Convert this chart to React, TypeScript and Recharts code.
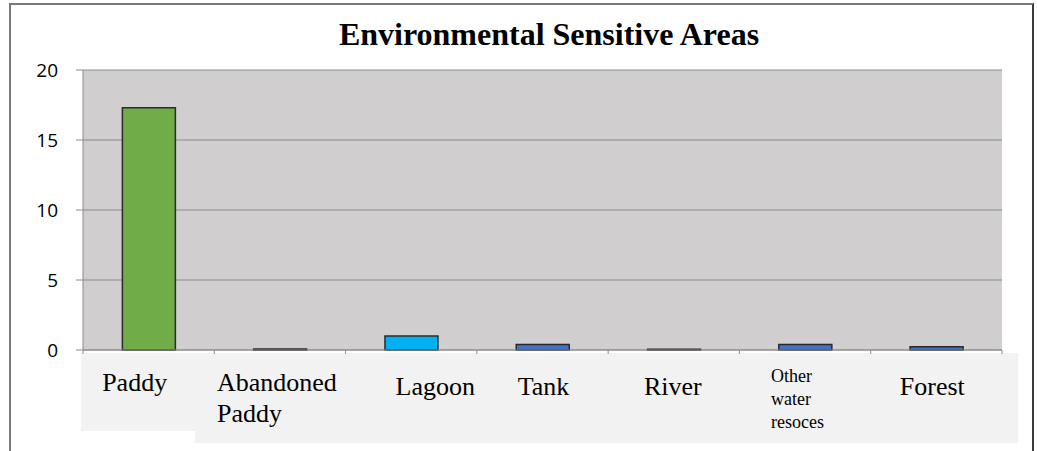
import { BarChart, Bar, XAxis, YAxis, CartesianGrid, Cell } from 'recharts'

const categories = [
  'Paddy',
  'Abandoned Paddy',
  'Lagoon',
  'Tank',
  'River',
  'Other water resoces',
  'Forest',
]
const areaValues = [17.3, 0.08, 1.0, 0.4, 0.05, 0.4, 0.24]
const barColors = ['#70AD47', '#4472C4', '#00B0F0', '#4472C4', '#4472C4', '#4472C4', '#4472C4']
const yTicks = [0, 5, 10, 15, 20]

const data = categories.map((name, i) => ({ name, value: areaValues[i] }))

const WIDTH = 1037
const HEIGHT = 451
const PLOT_LEFT = 83
const PLOT_RIGHT = 1002
const PLOT_TOP = 70
const PLOT_BOTTOM = 350
const BAND = (PLOT_RIGHT - PLOT_LEFT) / categories.length

const serif = '"Liberation Serif", "Times New Roman", serif'
const sans = '"Open Sans", "Liberation Sans", sans-serif'

// category labels sit in text boxes, not quite centred on their bars
type LabelBox = { lines: string[]; size: number; anchor: 'start' | 'middle'; dx: number; baselines: number[] }
const labelBoxes: Record<string, LabelBox> = {
  Paddy: { lines: ['Paddy'], size: 26, anchor: 'middle', dx: -14, baselines: [391] },
  'Abandoned Paddy': { lines: ['Abandoned', 'Paddy'], size: 26, anchor: 'start', dx: -63, baselines: [391, 422] },
  Lagoon: { lines: ['Lagoon'], size: 26, anchor: 'middle', dx: 24, baselines: [395] },
  Tank: { lines: ['Tank'], size: 26, anchor: 'middle', dx: 1, baselines: [395] },
  River: { lines: ['River'], size: 26, anchor: 'middle', dx: -1, baselines: [395] },
  'Other water resoces': {
    lines: ['Other', 'water', 'resoces'],
    size: 18,
    anchor: 'start',
    dx: -34,
    baselines: [382, 405, 428],
  },
  Forest: { lines: ['Forest'], size: 26, anchor: 'middle', dx: -4, baselines: [395] },
}

function CategoryTick(props: any) {
  const { x, index, payload } = props
  const box = labelBoxes[payload.value]
  const half = BAND / 2
  return (
    <g>
      {index === 0 && (
        <>
          <rect x={81} y={353} width={114} height={78} fill="#F2F2F2" />
          <rect x={195} y={353} width={823} height={90} fill="#F2F2F2" />
        </>
      )}
      <line x1={x - half} x2={x - half} y1={PLOT_BOTTOM} y2={PLOT_BOTTOM + 4} stroke="#8c8c8c" />
      {index === categories.length - 1 && (
        <line x1={x + half} x2={x + half} y1={PLOT_BOTTOM} y2={PLOT_BOTTOM + 4} stroke="#8c8c8c" />
      )}
      <text style={{ fontFamily: serif, fontSize: box.size }} fill="#000" textAnchor={box.anchor}>
        {box.lines.map((line, k) => (
          <tspan key={line} x={x + box.dx} y={box.baselines[k]}>
            {line}
          </tspan>
        ))}
      </text>
    </g>
  )
}

function ValueTick(props: any) {
  const { y, payload } = props
  return (
    <text
      x={58}
      y={y}
      dy={7}
      textAnchor="end"
      fill="#000"
      style={{ fontFamily: sans, fontSize: 19 }}
    >
      {payload.value}
    </text>
  )
}

export default function App() {
  return (
    <div style={{ position: 'absolute', left: 0, top: 0, width: WIDTH, height: HEIGHT, background: '#fff', overflow: 'hidden' }}>
      <div
        style={{
          position: 'absolute',
          left: 9,
          top: 3,
          width: WIDTH - 9 - 3,
          height: HEIGHT + 10,
          borderTop: '2px solid #7a7a7a',
          borderLeft: '2px solid #7a7a7a',
          borderRight: '2px solid #3a3a3a',
          boxSizing: 'border-box',
        }}
      />
      <div
        style={{
          position: 'absolute',
          left: 0,
          top: 18,
          width: 1098,
          textAlign: 'center',
          fontFamily: serif,
          fontWeight: 'bold',
          fontSize: 32,
          lineHeight: '32px',
          color: '#000',
        }}
      >
        Environmental Sensitive Areas
      </div>
      <div style={{ position: 'absolute', left: 0, top: 0 }}>
        <BarChart
          width={WIDTH}
          height={HEIGHT}
          data={data}
          margin={{ top: PLOT_TOP, right: WIDTH - PLOT_RIGHT, left: 10, bottom: 41 }}
          barCategoryGap="30%"
        >
          <CartesianGrid vertical={false} fill="#D0CECE" stroke="#8c8c8c" fillOpacity={1} />
          <XAxis
            dataKey="name"
            height={60}
            interval={0}
            axisLine={{ stroke: '#8c8c8c' }}
            tickLine={false}
            tick={<CategoryTick />}
          />
          <YAxis
            width={73}
            domain={[0, 20]}
            ticks={yTicks}
            interval={0}
            axisLine={{ stroke: '#8c8c8c' }}
            tickLine={{ stroke: '#8c8c8c' }}
            tickSize={7}
            tick={<ValueTick />}
          />
          <Bar dataKey="value" stroke="#2b2b2b" strokeWidth={1.5} isAnimationActive={false}>
            {data.map((d, i) => (
              <Cell key={d.name} fill={barColors[i]} />
            ))}
          </Bar>
        </BarChart>
      </div>
    </div>
  )
}
